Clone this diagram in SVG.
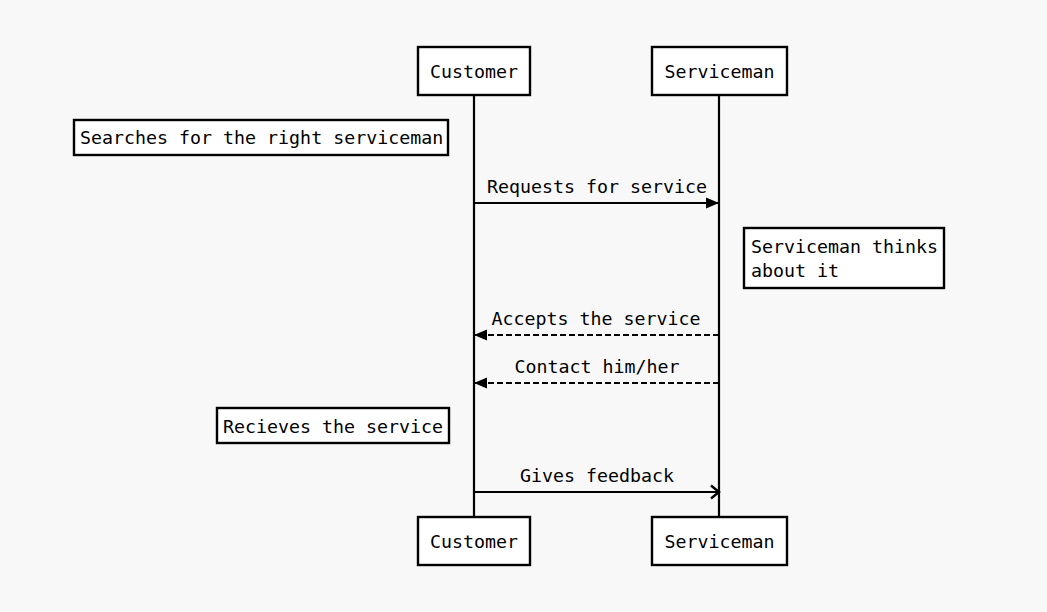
<svg xmlns="http://www.w3.org/2000/svg" width="1047" height="612" viewBox="0 0 1047 612">
<defs>
<style>
text{font-family:"DejaVu Sans Mono","Liberation Mono",monospace;font-size:18.3px;fill:#000}
.box{fill:#fff;stroke:#000;stroke-width:2.4}
.life{stroke:#000;stroke-width:2.2;fill:none}
.msg{stroke:#000;stroke-width:2.2;fill:none}
.dash{stroke-dasharray:6 3}
.c{text-anchor:middle}
</style>
<marker id="filled" markerWidth="16" markerHeight="14" refX="14" refY="7" orient="auto" markerUnits="userSpaceOnUse">
<path d="M1,1.5 L14,7 L1,12.5 Z" fill="#000"/>
</marker>
<marker id="open" markerWidth="14" markerHeight="16" refX="12" refY="8" orient="auto" markerUnits="userSpaceOnUse">
<path d="M4,1.5 L12,8 L4,14.5" fill="none" stroke="#000" stroke-width="2.4"/>
</marker>
</defs>
<rect width="1047" height="612" fill="#f8f8f8"/>
<g id="lifelines">
<line class="life" x1="474" y1="95" x2="474" y2="517"/>
<line class="life" x1="719" y1="95" x2="719" y2="517"/>
</g>
<g id="customer-top"><rect class="box" x="418" y="47" width="112" height="48"/><text class="c" x="474" y="78">Customer</text></g>
<g id="serviceman-top"><rect class="box" x="652" y="47" width="135" height="48"/><text class="c" x="719.5" y="78">Serviceman</text></g>
<g id="customer-bottom"><rect class="box" x="418" y="517" width="112" height="48"/><text class="c" x="474" y="548">Customer</text></g>
<g id="serviceman-bottom"><rect class="box" x="652" y="517" width="135" height="48"/><text class="c" x="719.5" y="548">Serviceman</text></g>
<g id="note-search"><rect class="box" x="74" y="120" width="374" height="35"/><text x="80" y="144">Searches for the right serviceman</text></g>
<g id="note-thinks"><rect class="box" x="744" y="228" width="200" height="60"/><text x="751" y="253">Serviceman thinks</text><text x="751" y="277">about it</text></g>
<g id="note-receives"><rect class="box" x="217" y="408" width="232" height="35"/><text x="223" y="433">Recieves the service</text></g>
<g id="connectors">
<line class="msg" x1="474" y1="203" x2="719" y2="203" marker-end="url(#filled)"/>
<text class="c" x="597" y="193">Requests for service</text>
<line class="msg dash" x1="719" y1="335" x2="474" y2="335" marker-end="url(#filled)"/>
<text class="c" x="596" y="325">Accepts the service</text>
<line class="msg dash" x1="719" y1="383" x2="474" y2="383" marker-end="url(#filled)"/>
<text class="c" x="597" y="373">Contact him/her</text>
<line class="msg" x1="474" y1="492" x2="719" y2="492" marker-end="url(#open)"/>
<text class="c" x="597" y="482">Gives feedback</text>
</g>
</svg>
